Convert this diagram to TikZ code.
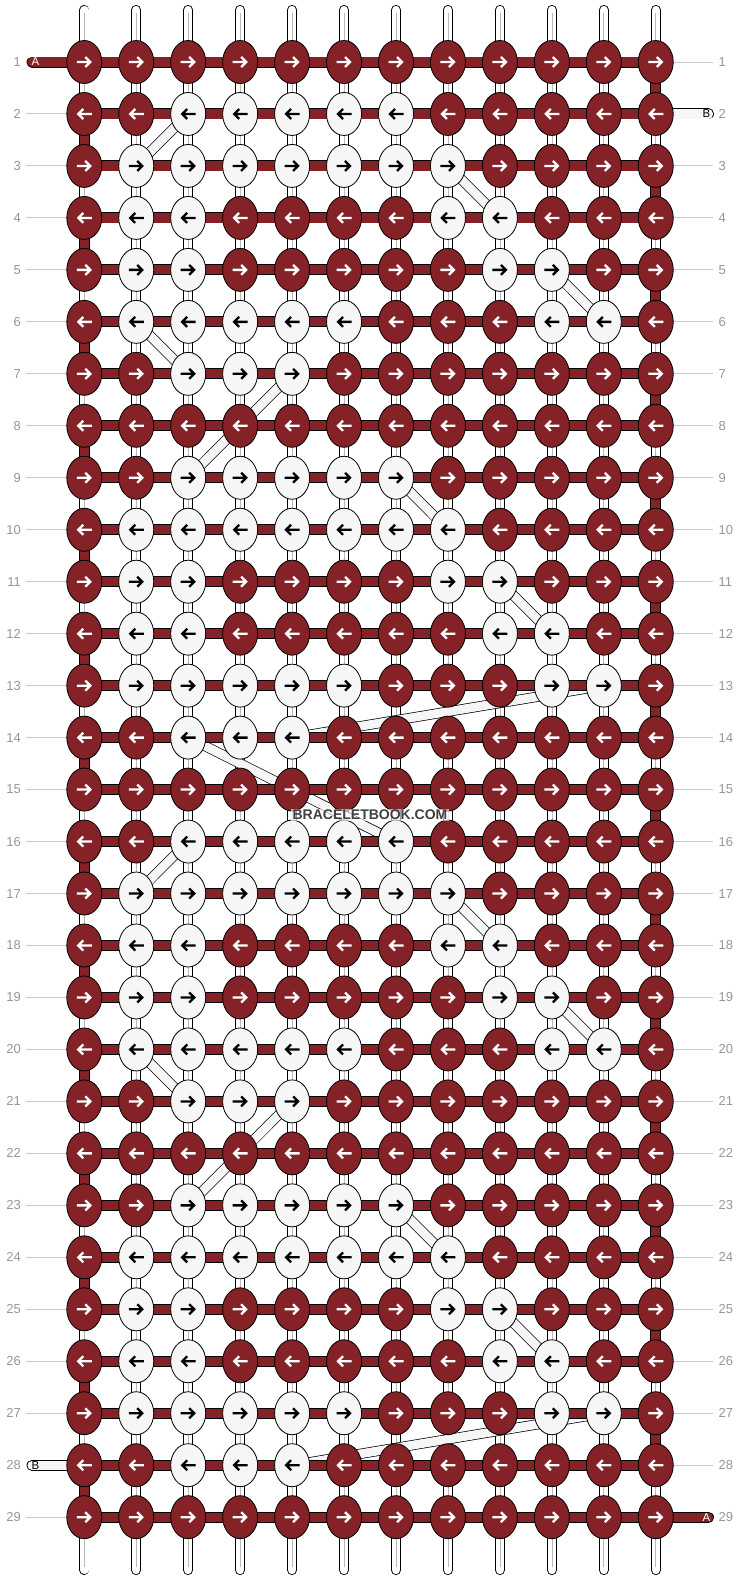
\documentclass[tikz,border=0pt]{standalone}
\usepackage{fontspec}
\setmainfont{Liberation Sans}
\usetikzlibrary{shapes.geometric}
\definecolor{knotred}{RGB}{132,34,40}
\definecolor{knotwhite}{RGB}{246,246,246}
\definecolor{numgray}{RGB}{150,150,150}
\definecolor{linegray}{RGB}{200,200,200}
\definecolor{midgray}{RGB}{185,185,185}
\definecolor{wmgray}{RGB}{64,64,64}
\pgfdeclarelayer{strings}
\pgfdeclarelayer{ribbons}
\pgfdeclarelayer{threads}
\pgfsetlayers{strings,ribbons,threads,main}
\def\PA{0,0,1,1,1,1,1,0,0,0,0,0}
\def\PB{0,1,1,1,1,1,1,1,0,0,0,0}
\def\PC{0,1,1,0,0,0,0,1,1,0,0,0}
\def\PD{0,1,1,0,0,0,0,0,1,1,0,0}
\def\PE{0,1,1,1,1,1,0,0,0,1,1,0}
\def\PF{0,0,1,1,1,0,0,0,0,0,0,0}
\def\PG{0,0,0,0,0,0,0,0,0,0,0,0}
\begin{document}
\begin{tikzpicture}[x=1pt,y=-1pt,
  knot/.style={ellipse,draw=black,line width=0.8pt,minimum width=35pt,minimum height=43pt,inner sep=0pt},
  k0/.style={fill=knotred}, k1/.style={fill=knotwhite},
  a0/.style={draw=white}, a1/.style={draw=black},
  arrowglyph/.style={line width=2.3pt},
  string/.style={draw=black,line width=0.9pt,double=white,double distance=8.4pt,line cap=round},
  stringmid/.style={draw=midgray,line width=0.7pt},
  thread/.style={draw=black,line width=0.9pt,double=knotred,double distance=9.2pt},
  bthread/.style={draw=black,line width=0.9pt,double=knotwhite,double distance=9.2pt},
  ribbon/.style={draw=black,line width=0.7pt,double=knotwhite,double distance=8.8pt},
  guide/.style={draw=linegray,line width=1pt},
  rownum/.style={text=numgray,font=\fontsize{13}{13}\selectfont,inner sep=0pt},
  endlabel/.style={font=\fontsize{11.5}{11.5}\selectfont,inner sep=0pt},
]
\useasboundingbox (0,0) rectangle (740,1580);
\coordinate (top) at (0,10);
\coordinate (bot) at (0,1570);
\coordinate (topm) at (0,13);
\coordinate (botm) at (0,1567);
\coordinate (lx) at (21,0);
\coordinate (rx) at (718.5,0);
\coordinate (gl) at (26,0);
\coordinate (gr) at (713,0);
\coordinate (endL) at (32,0);
\coordinate (endR) at (708.5,0);
% knots
\foreach \p [count=\rr] in {G,A,B,C,D,E,F,G,A,B,C,D,E,F,G,A,B,C,D,E,F,G,A,B,C,D,E,F,G}{
  \edef\cur{\csname P\p\endcsname}
  \pgfmathsetmacro\yy{62+51.97*(\rr-1)}
  \ifodd\rr \def\adir{1}\else\def\adir{-1}\fi
  \foreach \v [count=\cc] in \cur {
    \pgfmathsetmacro\xx{84.3+51.95*(\cc-1)}
    \node[knot,k\v] (n-\rr-\cc) at (\xx,\yy) {};
    \draw[arrowglyph,a\v,shift={(n-\rr-\cc.center)},xscale=\adir] (-7.5,0) -- (6,0) (1,-5) -- (6,0) -- (1,5);
  }
}
% vertical strings and guides
\begin{pgfonlayer}{strings}
\foreach \cc in {1,...,12}{
  \draw[string] (n-1-\cc.center |- top) -- (n-29-\cc.center |- bot);
  \draw[stringmid] (n-1-\cc.center |- topm) -- (n-29-\cc.center |- botm);
}
\foreach \rr in {2,...,27,29}{
  \draw[guide] (n-\rr-1.center -| gl) -- (n-\rr-1.center);
}
\foreach \rr in {1,...,28}{
  \ifnum\rr=2\else\draw[guide] (n-\rr-12.center) -- (n-\rr-12.center -| gr);\fi
}
\end{pgfonlayer}
% ribbons
\begin{pgfonlayer}{ribbons}
\foreach \ra/\ca/\rb/\cb in {2/3/3/2, 3/8/4/9, 5/10/6/11, 6/2/7/3, 7/5/9/3, 9/7/10/8, 11/9/12/10, 13/11/14/5, 14/3/16/7, 16/3/17/2, 17/8/18/9, 19/10/20/11, 20/2/21/3, 21/5/23/3, 23/7/24/8, 25/9/26/10, 27/11/28/5}{
  \draw[ribbon] (n-\ra-\ca.center) -- (n-\rb-\cb.center);
}
\end{pgfonlayer}
% base thread
\begin{pgfonlayer}{threads}
\foreach \rr in {1,...,29}{
  \draw[thread] (n-\rr-1.center) -- (n-\rr-12.center);
}
\foreach \rr in {1,...,28}{
  \pgfmathtruncatemacro\nx{\rr+1}
  \ifodd\rr
    \draw[thread] (n-\rr-12.center) -- (n-\nx-12.center);
  \else
    \draw[thread] (n-\rr-1.center) -- (n-\nx-1.center);
  \fi
}
\draw[thread,line cap=round] (n-1-1.center -| endL) -- (n-1-1.center);
\draw[thread,line cap=round] (n-29-12.center) -- (n-29-12.center -| endR);
\draw[bthread,line cap=round] (n-2-12.center) -- (n-2-12.center -| endR);
\draw[bthread,line cap=round] (n-28-1.center -| endL) -- (n-28-1.center);
\end{pgfonlayer}
% end labels
\node[endlabel,text=white] (lA1) at (35.5,62) {A};
\node[endlabel,text=white] (lA2) at (706.5,1518) {A};
\node[endlabel,text=black] (lB1) at (706.5,114) {B};
\node[endlabel,text=black] (lB2) at (35.5,1466) {B};
% row numbers
\foreach \rr in {1,...,29}{
  \node[rownum,anchor=east] (L\rr) at (n-\rr-1.center -| lx) {\rr};
  \node[rownum,anchor=west] (R\rr) at (n-\rr-12.center -| rx) {\rr};
}
% watermark
\node[font=\bfseries\fontsize{14}{14}\selectfont,text=wmgray,fill=white,fill opacity=0.6,text opacity=1,inner sep=1.5pt] (wm) at (370,815) {BRACELETBOOK.COM};
\end{tikzpicture}
\end{document}
